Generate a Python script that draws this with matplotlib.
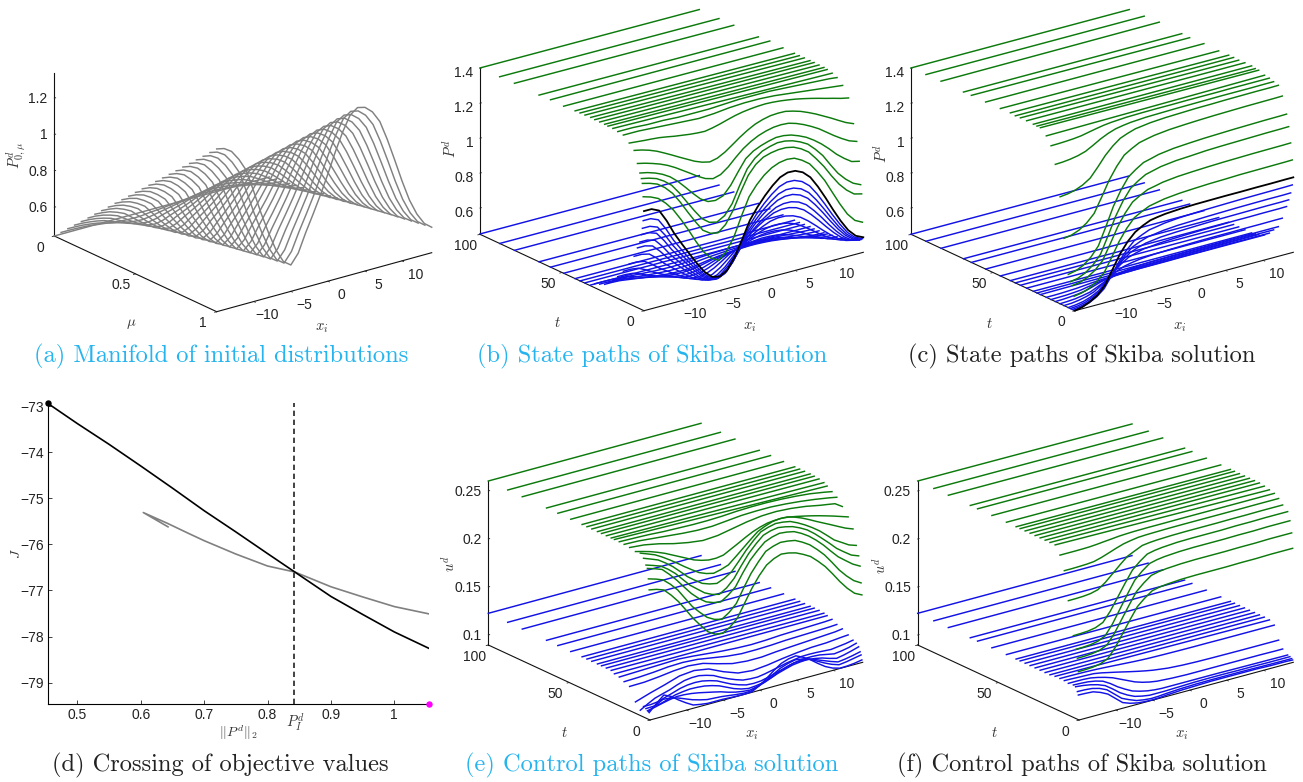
import numpy as np
import matplotlib
matplotlib.use("Agg")
import matplotlib.pyplot as plt
from matplotlib.transforms import Affine2D
from mpl_toolkits.mplot3d import proj3d

plt.rcParams['font.family'] = ['Liberation Sans', 'DejaVu Sans']
plt.rcParams['mathtext.fontset'] = 'cm'
plt.rcParams['axes.unicode_minus'] = True

# ---------------------------------------------------------------- data
# Values read off the picture. *_Z / *_GREEN / *_BLUE rows are sampled at X_GRID (or X_ENDS for
# straight lines); *_EVEN tables hold further readings for the last rows of a family.
X_GRID = [-15,-13,-11,-9,-7,-5,-3,-1,1,3,5,7,9,11,13,14]
X_ENDS = [-15,14]
X_EVEN = [-14,-12,-10,-8,-6,-4,-2,0,2,4,6,8,10,12]
X_STEEP = [-14,-12,-10,-8,-6,-4]

A_MU = [0,.0417,.0833,.125,.1667,.2083,.25,.2917,.3333,.375,.4167,.4583,.5,.5417,.5833,.625,.6667,.7083,.75,.7917,.8333,.875,.9167,.9583,1]
A_Z = [
[.442,.442],
[.479,.478,.473,.462,.452,.448,.455,.462,.471,.479,.480,.475,.466,.455,.449,.448],
[.517,.514,.503,.481,.463,.454,.467,.483,.500,.515,.517,.509,.489,.469,.456,.454],
[.554,.549,.534,.501,.473,.460,.480,.503,.530,.552,.555,.542,.513,.482,.464,.459],
[.591,.585,.564,.521,.484,.466,.492,.523,.559,.589,.592,.575,.536,.496,.471,.465],
[.628,.621,.595,.541,.494,.472,.505,.543,.588,.625,.630,.609,.560,.509,.478,.471],
[.666,.657,.625,.560,.504,.478,.517,.564,.617,.662,.667,.642,.584,.523,.485,.477],
[.703,.693,.656,.580,.515,.484,.530,.584,.646,.699,.705,.675,.607,.536,.492,.483],
[.740,.728,.686,.600,.525,.490,.542,.604,.675,.735,.742,.709,.631,.550,.499,.489],
[.778,.764,.717,.619,.536,.496,.554,.624,.705,.772,.780,.742,.655,.563,.507,.494],
[.815,.800,.747,.639,.546,.502,.567,.645,.734,.809,.817,.775,.678,.577,.514,.500],
[.852,.836,.778,.659,.556,.508,.579,.665,.763,.845,.855,.809,.702,.590,.521,.506],
[.890,.872,.808,.678,.567,.514,.592,.685,.792,.882,.892,.842,.726,.604,.528,.512],
[.927,.907,.839,.698,.577,.520,.604,.705,.821,.919,.930,.875,.749,.617,.535,.517],
[.964,.943,.869,.718,.588,.526,.617,.726,.851,.955,.967,.909,.773,.631,.543,.523],
[1.002,.979,.900,.738,.598,.532,.629,.746,.880,.992,1.005,.942,.796,.644,.550,.529],
[1.039,1.015,.930,.757,.608,.538,.642,.766,.909,1.029,1.042,.975,.820,.658,.557,.535],
[1.076,1.051,.961,.777,.619,.544,.654,.786,.938,1.065,1.080,1.008,.844,.671,.564,.541],
[1.113,1.086,.991,.797,.629,.550,.667,.807,.967,1.102,1.117,1.041,.867,.685,.571,.547],
[1.151,1.122,1.022,.816,.640,.556,.679,.827,.996,1.139,1.155,1.075,.891,.698,.578,.552],
[1.188,1.158,1.052,.836,.650,.562,.692,.847,1.025,1.175,1.192,1.108,.915,.712,.585,.558],
[1.225,1.194,1.083,.856,.661,.568,.704,.867,1.055,1.212,1.230,1.141,.938,.725,.593,.564],
[1.262,1.229,1.113,.876,.671,.574,.717,.888,1.084,1.249,1.267,1.175,.962,.739,.600,.570],
[1.300,1.265,1.144,.895,.682,.580,.729,.908,1.113,1.285,1.305,1.208,.986,.752,.607,.576],
[1.337,1.301,1.174,.915,.692,.587,.742,.928,1.142,1.322,1.342,1.242,1.009,.765,.614,.582],
]
A_EVEN = [
[.479,.476,.467,.457,.449,.450,.458,.467,.475,.480,.478,.471,.460,.452],
[.516,.509,.492,.472,.457,.459,.475,.491,.509,.518,.514,.500,.479,.462],
[.553,.543,.518,.486,.464,.467,.491,.516,.542,.556,.550,.528,.497,.471],
[.590,.576,.543,.501,.471,.475,.507,.540,.575,.594,.586,.557,.515,.481],
[.627,.610,.568,.516,.479,.484,.524,.565,.609,.632,.622,.586,.534,.491],
[.663,.643,.593,.531,.486,.492,.540,.590,.642,.669,.658,.615,.552,.501],
[.700,.677,.618,.546,.493,.500,.556,.614,.675,.707,.694,.644,.570,.511],
[.737,.710,.644,.560,.500,.508,.572,.639,.708,.745,.730,.672,.588,.520],
[.774,.744,.669,.575,.508,.517,.589,.663,.742,.783,.766,.701,.607,.530],
[.811,.777,.694,.590,.515,.525,.605,.688,.775,.821,.802,.730,.625,.540],
[.848,.811,.719,.605,.522,.533,.621,.713,.808,.859,.838,.759,.643,.550],
[.885,.844,.744,.620,.530,.542,.638,.737,.842,.897,.874,.788,.662,.560],
[.922,.878,.770,.634,.537,.550,.654,.762,.875,.935,.910,.816,.680,.569],
[.959,.911,.795,.649,.544,.558,.670,.786,.908,.973,.946,.845,.698,.579],
[.996,.945,.820,.664,.552,.567,.687,.811,.942,1.011,.982,.874,.717,.589],
[1.032,.978,.845,.679,.559,.575,.703,.836,.975,1.048,1.018,.903,.735,.599],
[1.069,1.012,.870,.694,.566,.583,.719,.860,1.008,1.086,1.054,.932,.753,.609],
[1.106,1.045,.896,.708,.573,.591,.735,.885,1.041,1.124,1.090,.960,.771,.618],
[1.143,1.079,.921,.723,.581,.600,.752,.909,1.075,1.162,1.126,.989,.790,.628],
[1.180,1.112,.946,.738,.588,.608,.768,.934,1.108,1.200,1.162,1.018,.808,.638],
[1.217,1.146,.971,.753,.595,.616,.784,.959,1.141,1.238,1.198,1.047,.826,.648],
[1.254,1.179,.996,.768,.603,.625,.801,.983,1.175,1.276,1.234,1.076,.845,.658],
[1.291,1.213,1.022,.782,.610,.633,.817,1.008,1.208,1.314,1.270,1.104,.863,.667],
[1.328,1.246,1.047,.797,.617,.641,.833,1.032,1.241,1.352,1.306,1.133,.881,.677],
]

T_B = [100,88,79,64,57,49,42,39,36,32.5,30,27,24,22,19,16,12.6,9,6,4,2.5,1.6,1,.5]
B_GREEN = [
[1.402,1.402],[1.404,1.403],[1.406,1.404],[1.404,1.403],[1.408,1.41],[1.406,1.406],[1.41,1.405],[1.411,1.405],
[1.412,1.405],[1.414,1.405],[1.412,1.405],[1.412,1.404],[1.412,1.403],[1.41,1.40],[1.41,1.392],
[1.405,1.405,1.40,1.40,1.395,1.395,1.395,1.40,1.405,1.405,1.405,1.40,1.395,1.39,1.385,1.38],
[1.40,1.40,1.395,1.39,1.385,1.38,1.385,1.395,1.40,1.40,1.395,1.385,1.375,1.365,1.355,1.35],
[1.37,1.362,1.355,1.34,1.328,1.322,1.341,1.366,1.381,1.387,1.381,1.368,1.349,1.326,1.303,1.294],
[1.341,1.319,1.28,1.233,1.187,1.16,1.193,1.256,1.307,1.332,1.334,1.311,1.273,1.227,1.178,1.16],
[1.275,1.252,1.218,1.166,1.109,1.073,1.117,1.199,1.25,1.275,1.275,1.244,1.197,1.135,1.082,1.067],
[1.227,1.204,1.159,1.077,.987,.955,1.018,1.148,1.199,1.223,1.214,1.178,1.117,1.035,.97,.96],
[1.199,1.176,1.115,.997,.878,.835,.917,1.094,1.172,1.197,1.185,1.143,1.054,.93,.85,.83],
[1.174,1.147,1.071,.941,.814,.776,.882,1.059,1.14,1.16,1.151,1.10,.995,.871,.791,.78],
[1.10,1.067,.978,.84,.692,.621,.732,.938,1.039,1.088,1.09,1.035,.917,.76,.642,.62],
]
B_GREEN_EVEN = [
[1.366,1.359,1.348,1.334,1.324,1.33,1.354,1.375,1.385,1.385,1.375,1.359,1.338,1.315],
[1.332,1.302,1.257,1.21,1.17,1.17,1.224,1.284,1.322,1.335,1.324,1.293,1.25,1.202],
[1.265,1.237,1.194,1.138,1.085,1.085,1.16,1.228,1.265,1.278,1.262,1.222,1.166,1.107],
[1.218,1.185,1.122,1.03,.96,.97,1.085,1.18,1.213,1.222,1.198,1.15,1.078,1.0],
[1.19,1.15,1.06,.935,.845,.86,1.01,1.142,1.187,1.195,1.167,1.102,.99,.885],
[1.163,1.115,1.01,.875,.785,.812,.975,1.11,1.153,1.16,1.13,1.05,.93,.825],
[1.087,1.028,.912,.762,.645,.66,.84,.995,1.07,1.095,1.067,.98,.838,.69],
]
B_BLUE = [
[.452,.452],[.45,.45],[.45,.45],[.45,.45],[.45,.45],[.45,.45],[.45,.45],[.45,.45],[.452,.452],[.455,.455],
[.473,.472,.466,.46,.455,.453,.457,.464,.469,.472,.473,.47,.465,.459,.454,.453],
[.484,.483,.474,.465,.458,.455,.46,.471,.478,.483,.484,.481,.472,.463,.456,.455],
[.496,.494,.482,.471,.46,.456,.464,.478,.488,.494,.496,.491,.48,.467,.458,.457],
[.513,.511,.494,.478,.464,.459,.469,.489,.502,.511,.513,.506,.491,.474,.462,.459],
[.541,.538,.513,.491,.471,.463,.477,.507,.526,.539,.541,.532,.509,.484,.467,.464],
[.575,.571,.537,.507,.479,.468,.487,.528,.554,.572,.575,.562,.531,.497,.473,.469],
[.621,.615,.569,.527,.489,.474,.501,.557,.592,.617,.621,.603,.561,.515,.482,.476],
[.678,.67,.608,.553,.502,.482,.518,.592,.64,.672,.678,.654,.598,.536,.492,.484],
[.735,.725,.648,.579,.515,.49,.535,.628,.687,.728,.735,.705,.635,.558,.503,.493],
[.792,.78,.688,.604,.528,.498,.552,.664,.734,.784,.792,.756,.672,.579,.514,.502],
[.832,.819,.715,.622,.537,.504,.564,.689,.768,.823,.832,.792,.698,.594,.521,.508],
[.878,.863,.747,.643,.548,.51,.578,.717,.806,.867,.878,.833,.728,.611,.53,.515],
[.917,.901,.775,.661,.557,.516,.589,.742,.839,.906,.917,.868,.753,.626,.537,.521],
[.963,.945,.806,.681,.567,.522,.603,.77,.877,.95,.963,.909,.783,.644,.545,.527],
]
B_BLUE_EVEN = [
[.473,.469,.463,.458,.454,.454,.46,.467,.471,.473,.472,.468,.462,.456],
[.484,.479,.47,.461,.455,.456,.466,.475,.481,.484,.483,.477,.467,.459],
[.496,.488,.476,.465,.457,.458,.471,.484,.492,.496,.494,.486,.473,.462],
[.513,.503,.486,.471,.46,.462,.479,.496,.507,.513,.511,.499,.482,.467],
[.541,.527,.502,.48,.464,.467,.492,.517,.533,.542,.538,.521,.496,.474],
[.575,.556,.522,.492,.47,.473,.507,.542,.564,.576,.571,.548,.514,.483],
[.621,.594,.548,.507,.477,.482,.528,.576,.606,.622,.615,.584,.537,.495],
[.678,.642,.58,.526,.486,.492,.554,.618,.658,.679,.67,.628,.566,.51],
[.735,.69,.613,.545,.495,.503,.58,.66,.71,.736,.725,.673,.595,.525],
[.792,.738,.645,.564,.504,.513,.606,.702,.762,.793,.78,.717,.624,.54],
[.832,.772,.668,.577,.51,.52,.624,.731,.798,.833,.819,.748,.644,.551],
[.878,.81,.694,.593,.518,.529,.645,.765,.84,.879,.863,.784,.668,.563],
[.917,.844,.717,.606,.524,.536,.663,.794,.876,.919,.901,.815,.688,.573],
[.963,.882,.743,.621,.531,.545,.684,.828,.918,.965,.945,.851,.711,.585],
]
B_BLACK = [1.02,1.00,.846,.707,.58,.53,.62,.806,.924,1.006,1.02,.96,.82,.665,.556,.536]
B_BLACK_EVEN = [1.02,.93,.775,.64,.54,.555,.71,.87,.97,1.022,1.0,.895,.74,.60]

T_C = [100,90.9,81.7,68,63.2,54.5,45.5,39.4,36.4,33.3,29.5,25.4,23.2,21.1,17.5,14.6,12,9.1,6.7,4.1,2.8,1.6,.6]
C_GREEN = [
[1.402,1.402],[1.404,1.404],[1.406,1.41],[1.404,1.404],[1.406,1.402],[1.406,1.406],[1.408,1.404],[1.41,1.406],
[1.406,1.406],[1.408,1.404],[1.408,1.406],[1.406,1.406],[1.405,1.40],[1.405,1.40],[1.374,1.387],
[1.33,1.333,1.341,1.359,1.372,1.378,1.38,1.381,1.381,1.382,1.382,1.382,1.383,1.383,1.383,1.383],
[1.235,1.242,1.263,1.311,1.346,1.36,1.366,1.368,1.37,1.371,1.372,1.373,1.373,1.373,1.374,1.374],
[1.062,1.077,1.123,1.229,1.305,1.336,1.348,1.354,1.357,1.36,1.361,1.363,1.364,1.365,1.365,1.366],
[.835,.859,.931,1.099,1.219,1.267,1.286,1.296,1.301,1.305,1.308,1.31,1.312,1.313,1.314,1.315],
[.64,.669,.757,.961,1.106,1.165,1.188,1.2,1.206,1.211,1.214,1.217,1.219,1.221,1.222,1.223],
[.604,.632,.715,.908,1.046,1.102,1.124,1.135,1.14,1.146,1.149,1.151,1.153,1.155,1.156,1.157],
[.587,.611,.683,.852,.973,1.021,1.04,1.05,1.055,1.059,1.062,1.064,1.066,1.067,1.068,1.069],
[.53,.552,.619,.775,.887,.931,.949,.958,.963,.967,.969,.972,.973,.974,.975,.976],
]
C_GREEN_STEEP = [
[1.331,1.336,1.35,1.367,1.375,1.379],
[1.237,1.25,1.286,1.331,1.354,1.363],
[1.067,1.095,1.174,1.272,1.322,1.342],
[.842,.888,1.013,1.166,1.245,1.277],
[.649,.704,.856,1.042,1.138,1.176],
[.612,.665,.809,.986,1.077,1.113],
[.594,.64,.765,.92,.999,1.03],
[.537,.579,.695,.838,.911,.94],
]
C_BLUE = [
[.45,.45],[.45,.45],[.45,.45],[.45,.45],[.45,.45],[.45,.45],[.45,.45],[.45,.45],[.45,.45],[.45,.45],[.45,.45],[.45,.45],
[.45,.455],[.45,.46],
[.45,.451,.455,.463,.468,.471,.472,.472,.472,.473,.473,.473,.473,.473,.473,.473],
[.45,.452,.459,.475,.487,.491,.493,.494,.495,.495,.495,.496,.496,.496,.496,.496],
[.45,.454,.465,.492,.511,.518,.521,.523,.524,.524,.525,.525,.525,.526,.526,.526],
[.45,.455,.471,.509,.536,.546,.551,.553,.554,.555,.555,.556,.556,.557,.557,.557],
[.45,.458,.483,.541,.583,.599,.606,.609,.611,.613,.614,.614,.615,.615,.616,.616],
[.45,.462,.499,.584,.645,.67,.679,.684,.687,.689,.69,.692,.692,.693,.693,.694],
[.45,.464,.508,.608,.68,.709,.721,.726,.729,.732,.734,.735,.736,.737,.737,.738],
[.45,.467,.517,.633,.716,.75,.763,.77,.773,.776,.778,.78,.781,.782,.782,.783],
[.45,.469,.527,.661,.756,.795,.81,.818,.822,.825,.827,.829,.83,.831,.832,.833],
]
C_BLUE_STEEP = [
[.45,.453,.459,.466,.47,.471],
[.451,.455,.467,.482,.489,.492],
[.451,.458,.478,.502,.515,.52],
[.452,.462,.49,.524,.541,.548],
[.452,.468,.511,.565,.592,.603],
[.454,.477,.54,.618,.659,.674],
[.454,.482,.557,.649,.696,.715],
[.455,.487,.573,.68,.735,.756],
[.456,.492,.592,.714,.777,.802],
]
C_BLACK = [.45,.479,.551,.707,.808,.852,.866,.872,.875,.876,.877,.877,.878,.878,.879,.879]
C_BLACK_STEEP = [.46,.505,.63,.765,.833,.86]

E_GREEN = [
[.2604,.2604],[.2604,.2604],[.2604,.2604],[.2604,.2604],[.2604,.2604],[.2604,.2604],[.2604,.2604],[.2604,.2604],
[.2604,.2604],[.2604,.2604],[.2604,.2600],[.2604,.2595],[.2604,.258],[.2604,.256],
[.2604,.26,.2595,.2585,.258,.2575,.2575,.258,.259,.2595,.2595,.259,.258,.2565,.254,.2525],
[.26,.2595,.258,.2565,.255,.254,.254,.2555,.257,.2575,.2575,.2565,.255,.253,.2505,.249],
[.2594,.258,.255,.251,.248,.246,.247,.25,.253,.255,.2555,.2545,.2525,.2495,.247,.242],
[.258,.2538,.2479,.2403,.2327,.2285,.2295,.2375,.2455,.2504,.2514,.249,.2455,.2413,.2365,.234],
[.2587,.2528,.2434,.2323,.2219,.217,.2215,.2347,.2479,.2542,.2549,.2497,.242,.2344,.2267,.2238],
[.2549,.249,.2379,.2233,.2122,.208,.216,.2344,.2493,.2538,.2518,.2441,.2337,.2201,.2108,.2082],
[.249,.2438,.232,.2156,.2035,.1978,.2101,.2319,.2469,.2507,.2476,.24,.2271,.2125,.2014,.1985],
[.2462,.241,.2257,.2076,.1948,.1906,.2021,.2257,.2406,.2455,.2431,.2343,.2208,.2045,.1927,.1885],
[.2358,.2306,.216,.1945,.1792,.1729,.1854,.2125,.2313,.2365,.2344,.2257,.2111,.1913,.176,.1715],
[.2247,.2205,.2042,.1826,.1646,.1587,.1702,.1973,.2174,.2247,.2218,.2139,.1993,.1795,.1632,.1594],
]
E_GREEN_EVEN = [
[.2587,.2565,.253,.2495,.247,.2465,.2485,.2515,.254,.2553,.255,.2535,.251,.2483],
[.256,.251,.2441,.2365,.2302,.2283,.2335,.2417,.2483,.2512,.2505,.2473,.2435,.239],
[.2558,.2484,.238,.227,.2188,.2188,.228,.2415,.2515,.2552,.2527,.246,.2382,.2305],
[.252,.2438,.2307,.2175,.2095,.2112,.225,.2424,.252,.2532,.2483,.2392,.227,.2155],
[.2465,.2385,.2238,.2095,.1998,.2025,.2215,.24,.2495,.2495,.2442,.234,.22,.2068],
[.2438,.2338,.2165,.2005,.192,.1955,.2145,.2337,.2437,.2447,.2392,.228,.2125,.1985],
[.2335,.224,.2052,.1865,.175,.178,.1995,.2225,.2345,.2358,.2305,.2188,.2015,.183],
[.2232,.213,.1935,.1733,.16,.163,.1838,.2085,.222,.2238,.2182,.207,.1897,.1705],
]
E_BLUE = [
[.1226,.1226],[.1226,.1226],[.1226,.1226],[.1226,.1226],[.1226,.1226],[.1226,.1226],[.1226,.1226],[.1226,.1226],
[.1226,.1226],[.1226,.1226],[.1226,.1226],[.1226,.1226],[.1225,.122],[.1205,.121],
[.1195,.12,.1205,.121,.1215,.1205,.119,.1175,.1165,.116,.1165,.1175,.118,.1185,.119,.1195],
[.117,.1175,.1185,.12,.1205,.1195,.117,.1145,.113,.113,.1135,.1145,.115,.1155,.116,.1165],
[.1147,.115,.1165,.1185,.1195,.118,.1135,.1095,.108,.108,.1095,.1105,.1115,.1125,.1135,.1146],
[.1014,.1065,.111,.116,.1175,.115,.108,.1025,.101,.1025,.105,.107,.1085,.109,.1105,.1111],
[.0951,.1035,.108,.1135,.1145,.1105,.103,.0975,.0965,.0995,.103,.1055,.1055,.1045,.1065,.108],
[.1005,.1015,.1065,.1105,.1105,.1065,.099,.094,.094,.098,.1025,.105,.1045,.1015,.104,.1063],
[.0995,.1005,.1055,.1075,.1065,.1025,.0955,.0915,.0935,.099,.1035,.105,.1025,.098,.1015,.1038],
[.098,.1015,.1045,.1035,.1005,.097,.0925,.0905,.0945,.1015,.1065,.106,.1005,.095,.0975,.0993],
[.0975,.1062,.1035,.0975,.0935,.0925,.0905,.09,.0965,.1055,.11,.1065,.0985,.0925,.095,.0965],
[.0969,.1111,.1018,.0924,.09,.09,.0893,.0896,.0993,.1108,.1146,.1063,.0952,.0893,.0903,.0917],
]
E_BLUE_EVEN = [
[.0995,.1058,.111,.1145,.1128,.1065,.1,.0967,.0978,.1012,.1043,.1057,.105,.1055],
[.1005,.104,.109,.111,.1088,.1027,.0962,.0935,.0958,.1002,.104,.105,.103,.1025],
[.0998,.103,.1067,.1072,.1048,.099,.093,.0922,.096,.1013,.1045,.104,.1,.0995],
[.0995,.1032,.1043,.1022,.0988,.0945,.0912,.0922,.0978,.1042,.1066,.1035,.0975,.096],
[.1022,.1055,.1005,.0953,.093,.0915,.0898,.0928,.101,.1082,.1088,.1025,.095,.0935],
[.1045,.1075,.0968,.091,.09,.0896,.0892,.0938,.1055,.1135,.111,.1005,.0915,.0895],
]

T_F = [100,90,81,67.4,62.9,54,45,39,36.5,33.4,30.3,27.2,24.1,21,18,14.8,11.8,9.1,6.6,3.5,2.1,1,.4]
F_GREEN = [
[.2604,.2597],[.2604,.26],[.2604,.26],[.2604,.26],[.2604,.26],[.2604,.26],[.2604,.26],[.2604,.26],
[.2604,.26],[.2604,.26],[.2604,.26],[.2604,.26],[.2604,.26],[.2604,.26],[.2604,.259],[.2604,.2577],
[.2521,.2521,.2524,.2538,.2553,.256,.2562,.2562,.2563,.2563,.2563,.2563,.2563,.2563,.2563,.2563],
[.238,.2382,.2392,.244,.2493,.252,.2526,.2529,.253,.253,.253,.253,.253,.2531,.2531,.2531],
[.2087,.2091,.2119,.2245,.2384,.2455,.2471,.2477,.2479,.2479,.2479,.2481,.2481,.2483,.2483,.2483],
[.1747,.1754,.1802,.2023,.2265,.239,.2417,.2428,.2431,.2431,.2431,.2435,.2435,.2438,.2438,.2438],
[.1615,.1622,.1674,.1911,.2169,.2302,.2332,.2343,.2347,.2347,.2347,.235,.235,.2354,.2354,.2354],
[.1531,.1538,.1587,.1813,.206,.2187,.2215,.2225,.2229,.2229,.2229,.2232,.2232,.2236,.2236,.2236],
[.1396,.1403,.1451,.167,.1909,.2032,.2059,.207,.2073,.2073,.2073,.2076,.2076,.208,.208,.208],
]
F_GREEN_STEEP = [
[.2521,.2522,.253,.2545,.2557,.2561],
[.238,.2385,.2413,.2468,.2508,.2524],
[.2088,.2099,.2174,.2317,.242,.2465],
[.1749,.1768,.1899,.2148,.2334,.2407],
[.1617,.1637,.1778,.2044,.2243,.2321],
[.1533,.1552,.1686,.194,.213,.2205],
[.1398,.1417,.1546,.1793,.1977,.205],
]
F_BLUE = [
[.1226,.1226],[.1226,.1226],[.1226,.1226],[.1226,.1226],[.1226,.1226],[.1226,.1226],[.1226,.1226],[.1226,.1226],
[.1226,.1226],[.1226,.1226],[.1226,.1226],[.1226,.1226],[.1226,.1226],[.1226,.1226],[.1226,.1226],[.1235,.1222],
[.1236,.1235,.1232,.1225,.1215,.1205,.1198,.1195,.1193,.1192,.1192,.1191,.1191,.1191,.1191,.1191],
[.1235,.123,.1225,.1195,.116,.1125,.1095,.1075,.1065,.106,.1058,.1057,.1056,.1056,.1056,.1056],
[.1226,.1225,.1205,.116,.109,.103,.1,.099,.0985,.0985,.0985,.0985,.0985,.0985,.0983,.0983],
[.1233,.1225,.119,.109,.1005,.0965,.095,.095,.095,.095,.095,.0948,.0947,.0946,.0945,.0945],
[.1226,.1205,.1155,.104,.096,.093,.093,.0935,.094,.0942,.0942,.094,.094,.0938,.0938,.0938],
[.1184,.1175,.112,.099,.0925,.0905,.0915,.0925,.093,.0932,.0932,.0932,.093,.0928,.0927,.0927],
[.1153,.1145,.108,.095,.0905,.0895,.0905,.0915,.092,.0925,.0925,.0925,.0925,.092,.092,.0917],
]
F_BLUE_STEEP = [
[.1236,.1234,.1229,.122,.121,.1201],
[.1233,.1228,.1212,.1178,.1142,.1109],
[.1226,.122,.1185,.1125,.1055,.1012],
[.123,.1212,.1145,.1045,.0982,.0955],
[.1218,.1185,.11,.0995,.0942,.093],
[.1182,.1155,.1055,.0955,.0912,.0908],
[.115,.1118,.1015,.0922,.0898,.0898],
]

D_BLACK_X = [.4532,.5,.55,.6,.65,.7,.75,.8,.843,.9,.95,1,1.0552]
D_BLACK_Y = [-72.94,-73.38,-73.83,-74.3,-74.78,-75.27,-75.73,-76.2,-76.6,-77.13,-77.52,-77.9,-78.26]
D_GREY_X = [.643,.604,.643,.675,.7,.75,.8,.843,.9,.95,1,1.0552]
D_GREY_Y = [-75.62,-75.31,-75.55,-75.76,-75.92,-76.21,-76.47,-76.6,-76.92,-77.14,-77.35,-77.51]
D_SKIBA = .8425

X_TICKS = [-10,-5,0,5,10]
X_LABELS = ['\u221210','\u22125','0','5','10']
T_TICKS = [0,50,100]
MU_TICKS = [0,.5,1]
MU_LABELS = ['0','0.5','1']
P_TICKS = [.6,.8,1,1.2,1.4]
P_LABELS = ['0.6','0.8','1','1.2','1.4']
U_TICKS = [.1,.15,.2,.25]
U_LABELS = ['0.1','0.15','0.2','0.25']

CAPTIONS = ['(a) Manifold of initial distributions','(b) State paths of Skiba solution','(c) State paths of Skiba solution',
            '(d) Crossing of objective values','(e) Control paths of Skiba solution','(f) Control paths of Skiba solution']

# ---------------------------------------------------------------- style
W, H = 1303, 782
fig = plt.figure(figsize=(W/100, H/100), dpi=100, facecolor='white')
GREEN, BLUE, GREY = '#0c7a0c', '#1212e6', '#808080'
CYAN = '#25b4ee'
LW = 1.05
TICK = 10


def corners(ax, pts):
    M = ax.get_proj()
    ax.apply_aspect()
    out = []
    for p in pts:
        u, v, _ = proj3d.proj_transform(p[0], p[1], p[2], M)
        out.append(ax.transData.transform((u, v)))
    return np.array(out)


def place(ax, bl, f, r, top, xl, yl, zl):
    bl, f, r, top = [np.array([p[0], H - p[1]], float) for p in (bl, f, r, top)]
    xv, tv, zv = r - f, bl - f, top - bl
    rx, rt = xv[1] / xv[0], tv[1] / tv[0]
    e = np.sqrt(-rx * rt)
    el = np.arcsin(e)
    az = np.arctan2(-np.sqrt(-rt / rx), -1.0)
    ax.view_init(np.degrees(el), np.degrees(az))
    ax.set_xlim(*xl, view_margin=0)
    ax.set_ylim(*yl, view_margin=0)
    ax.set_zlim(*zl, view_margin=0)
    ax.set_box_aspect((abs(xv[0] / np.sin(az)), abs(tv[0] / np.cos(az)), abs(zv[1]) / np.cos(el)))
    pts = [(xl[0], yl[1], zl[0]), (xl[0], yl[0], zl[0]), (xl[1], yl[0], zl[0])]
    size, cx, cy = 500.0, (f[0]), (f[1])
    for _ in range(4):
        ax.set_position([(cx - size/2)/W, (cy - size/2)/H, size/W, size/H])
        c = corners(ax, pts)
        size *= np.linalg.norm(r - f) / np.linalg.norm(c[2] - c[1])
        ax.set_position([(cx - size/2)/W, (cy - size/2)/H, size/W, size/H])
        c = corners(ax, pts)
        cx += bl[0] - c[0][0]
        cy += bl[1] - c[0][1]
    ax.set_position([(cx - size/2)/W, (cy - size/2)/H, size/W, size/H])


def shift_labels(ax, axis, dx, dy, ha=None):
    """Move tick labels by pixels; Axis3D resets their transform whenever it fetches its ticks."""
    orig = axis.get_major_ticks
    tr = ax.transData + Affine2D().translate(dx, -dy)

    def patched(numticks=None):
        ticks = orig(numticks)
        for t in ticks:
            t.label1.set_transform(tr)
            if ha:
                t.label1.set_ha(ha)
        return ticks
    axis.get_major_ticks = patched


def shift_axis_label(ax, axis, dx, dy):
    """Axis3D places its label with set_position at draw time: offset that position by pixels."""
    label = axis.label
    orig = label.set_position

    def moved(xy):
        p = ax.transData.transform(xy) + np.array([dx, -dy])
        orig(ax.transData.inverted().transform(p))
    label.set_position = moved


def panel(bl, f, r, top, xl, yl, zl, zticks, zlabels, yticks, ylabels, xlabel, ylabel, zlabel, zdy, nudges):
    ax = fig.add_axes([.3, .3, .3, .3], projection='3d', proj_type='ortho')
    ax.computed_zorder = False
    ax.patch.set_visible(False)
    place(ax, bl, f, r, top, xl, yl, zl)
    ax.grid(False)
    ax.set_xticks(X_TICKS, X_LABELS)
    ax.set_yticks(yticks, ylabels)
    ax.set_zticks(zticks, zlabels)
    for a in (ax.xaxis, ax.yaxis, ax.zaxis):
        a.set_pane_color((1, 1, 1, 0))
        a.pane.set_edgecolor((1, 1, 1, 0))
        a.line.set_color('#111111')
        a.line.set_linewidth(0.8)
        a._axinfo['tick'].update({'inward_factor': 0.12, 'outward_factor': 0.0, 'linewidth': {True: .6, False: .6}})
        a.set_rotate_label(False)
    ax.zaxis._axinfo['tick'].update({'inward_factor': 0.0, 'outward_factor': 0.08})
    ax.tick_params(axis='both', labelsize=TICK, colors='#222222', pad=4)
    ax.tick_params(axis='z', pad=4)
    ax.set_xlabel(xlabel, fontsize=10.5, color='#333333', labelpad=10, rotation=0)
    ax.set_ylabel(ylabel, fontsize=10.5, color='#333333', labelpad=10, rotation=0)
    ax.set_zlabel(zlabel, fontsize=10.5, color='#333333', labelpad=0, rotation=90)
    shift_labels(ax, ax.xaxis, 1, -12)
    shift_labels(ax, ax.yaxis, 3, -13)
    shift_labels(ax, ax.zaxis, 23, zdy, 'right')
    for a, (dx, dy) in zip((ax.xaxis, ax.yaxis, ax.zaxis), nudges):
        shift_axis_label(ax, a, dx, dy)
    return ax


def family(ax, ts, rows, color, z=2, lw=LW, extra=(), extra_x=X_EVEN):
    first = len(rows) - len(extra)
    for i, (t, row) in enumerate(zip(ts, rows)):
        xs = list(X_GRID if len(row) == len(X_GRID) else X_ENDS)
        zs = list(row)
        if i >= first:
            xs += extra_x
            zs += extra[i - first]
            order = np.argsort(xs)
            xs, zs = np.array(xs)[order], np.array(zs)[order]
        ax.plot(xs, [t] * len(xs), zs, color=color, lw=lw, zorder=z, clip_on=False, solid_joinstyle='round')


ZP = (.45, 1.4)
ZU = (.0896, .2604)

# (a)
ax = panel((54.3, 236), (216.7, 311.7), (431.7, 252.7), (54.3, 72.7), (-15, 14), (1, 0), (.442, 1.34),
           P_TICKS[:4], P_LABELS[:4], MU_TICKS, MU_LABELS, r'$x_i$', r'$\mu$', r'$P^d_{0,\mu}$', -5,
           ((-36, -3), (39, 5), (14, 3)))
family(ax, A_MU, A_Z, GREY, extra=A_EVEN)
# (b)
ax = panel((480, 234.3), (644, 310.7), (863.3, 252.3), (480, 68.3), (-15, 14), (0, 100), ZP,
           P_TICKS, P_LABELS, T_TICKS, T_TICKS, r'$x_i$', r'$t$', r'$P^d$', -1,
           ((-37, -3), (39, 6), (22, 0)))
family(ax, T_B, B_BLUE, BLUE, 2, extra=B_BLUE_EVEN)
family(ax, T_B, B_GREEN, GREEN, 3, extra=B_GREEN_EVEN)
family(ax, [0], [B_BLACK], 'black', 4, 1.3, extra=[B_BLACK_EVEN])
# (c)
ax = panel((911, 234.3), (1075, 310.7), (1293.3, 252.3), (911, 68.3), (-15, 14), (0, 100), ZP,
           P_TICKS, P_LABELS, T_TICKS, T_TICKS, r'$x_i$', r'$t$', r'$P^d$', -1,
           ((-37, -3), (40, 6), (22, 5)))
family(ax, T_C, C_BLUE, BLUE, 2, extra=C_BLUE_STEEP, extra_x=X_STEEP)
family(ax, T_C, C_GREEN, GREEN, 3, extra=C_GREEN_STEEP, extra_x=X_STEEP)
family(ax, [0], [C_BLACK], 'black', 4, 1.3, extra=[C_BLACK_STEEP], extra_x=X_STEEP)
# (e)
ax = panel((488.3, 645), (650, 720), (862.7, 662.3), (488.3, 481), (-15, 14), (0, 100), ZU,
           U_TICKS, U_LABELS, T_TICKS, T_TICKS, r'$x_i$', r'$t$', r'$u^d$', -5,
           ((-38, -5), (39, 5), (12, 3)))
family(ax, T_B, E_BLUE, BLUE, 2, extra=E_BLUE_EVEN)
family(ax, T_B, E_GREEN, GREEN, 3, extra=E_GREEN_EVEN)
# (f)
ax = panel((917.7, 645), (1079, 720), (1293.3, 662.3), (917.7, 481), (-15, 14), (0, 100), ZU,
           U_TICKS, U_LABELS, T_TICKS, T_TICKS, r'$x_i$', r'$t$', r'$u^d$', -5,
           ((-37, -5), (40, 5), (14, 5)))
family(ax, T_F, F_BLUE, BLUE, 2, extra=F_BLUE_STEEP, extra_x=X_STEEP)
family(ax, T_F, F_GREEN, GREEN, 3, extra=F_GREEN_STEEP, extra_x=X_STEEP)

# (d)
ax = fig.add_axes([47.7/W, 1 - 704.3/H, (429.3 - 47.7)/W, (704.3 - 403.3)/H])
ax.set_xlim(.4532, 1.0552)
ax.set_ylim(-79.47, -72.94)
for s in ('top', 'right'):
    ax.spines[s].set_visible(False)
ax.plot(D_GREY_X, D_GREY_Y, color=GREY, lw=1.2)
ax.plot(D_BLACK_X, D_BLACK_Y, color='black', lw=1.2)
ax.axvline(D_SKIBA, color='#222222', lw=1.2, ls=(0, (3.2, 2.2)))
ax.plot([.4532], [-72.94], 'o', color='black', ms=3.6, clip_on=False, zorder=5)
ax.plot([1.0552], [-79.47], 'o', color='#ff00ff', ms=3.6, clip_on=False, zorder=5)
ax.set_xticks([.5, .6, .7, .8, .9, 1], ['0.5', '0.6', '0.7', '0.8', '0.9', '1'])
ax.set_yticks([-73, -74, -75, -76, -77, -78, -79], ['\u221273', '\u221274', '\u221275', '\u221276', '\u221277', '\u221278', '\u221279'])
ax.tick_params(direction='in', length=3, width=.6, labelsize=TICK, colors='#222222', pad=3)
ax.set_xlabel(r'$||P^d||_2$', fontsize=10, color='#333333', labelpad=1, x=.5)
ax.set_ylabel(r'$J$', fontsize=10, color='#333333', labelpad=-2)
ax.text(.8445, -79.85, r'$P^d_I$', fontsize=10.5, color='#333333', ha='center', va='center')

# captions
POS = [(221, 356), (652, 356), (1082, 356), (220, 765), (652, 765), (1082, 765)]
COL = [CYAN, CYAN, '#222222', '#222222', CYAN, '#222222']
for s, (x, y), c in zip(CAPTIONS, POS, COL):
    fig.text(x / W, 1 - y / H, s, family=['cmr10', 'DejaVu Serif'], fontsize=17.6, color=c, ha='center', va='center')

fig.savefig('out.png', dpi=100)
